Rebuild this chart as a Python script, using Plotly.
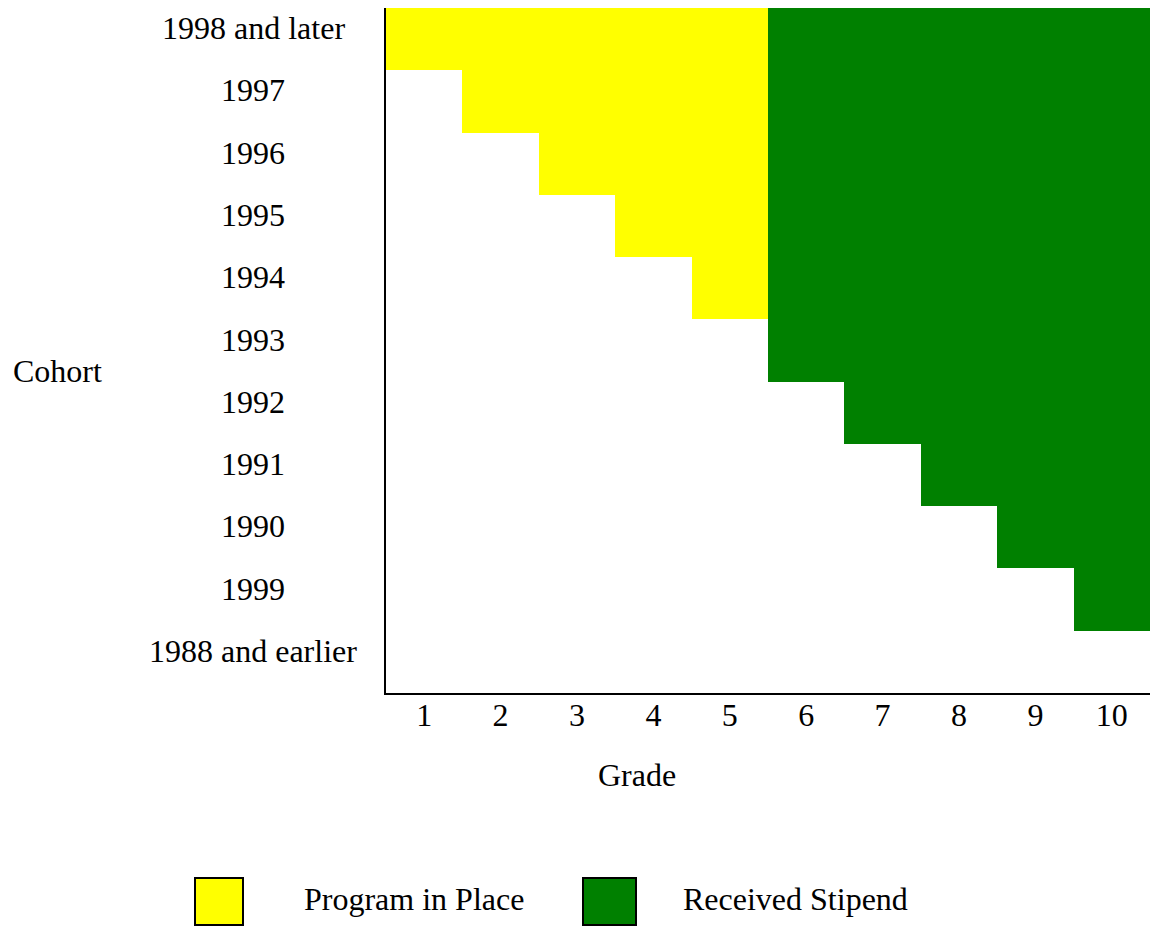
import plotly.graph_objects as go

grades = [1, 2, 3, 4, 5, 6, 7, 8, 9, 10]
cohorts = ["1998 and later", "1997", "1996", "1995", "1994", "1993",
           "1992", "1991", "1990", "1999", "1988 and earlier"]
# first grade with the program in place (None = never)
program_start = [1, 2, 3, 4, 5, None, None, None, None, None, None]
# first grade with a stipend received (None = never)
stipend_start = [6, 6, 6, 6, 6, 6, 7, 8, 9, 10, None]

legend_labels = ["Program in Place", "Received Stipend"]
YELLOW = "#ffff00"
GREEN = "#008000"
FONT = "Liberation Serif, Times New Roman, serif"
FS = 32

z = []
for p, s in zip(program_start, stipend_start):
    row = []
    for g in grades:
        if s is not None and g >= s:
            row.append(2)
        elif p is not None and g >= p:
            row.append(1)
        else:
            row.append(0)
    z.append(row)

row_idx = list(range(len(cohorts)))

fig = go.Figure(go.Heatmap(
    x=grades, y=row_idx, z=z, zmin=0, zmax=2,
    colorscale=[[0, "#ffffff"], [0.3333, "#ffffff"], [0.3333, YELLOW],
                [0.6667, YELLOW], [0.6667, GREEN], [1, GREEN]],
    showscale=False, hoverinfo="skip"))

fig.update_layout(
    width=1150, height=927,
    margin=dict(l=386, r=0, t=8, b=234),
    paper_bgcolor="white", plot_bgcolor="white",
    font=dict(family=FONT, size=FS, color="black"),
    showlegend=False,
)
fig.update_xaxes(range=[0.5, 10.5], tickvals=grades,
                 ticktext=[str(g) for g in grades],
                 showline=True, linewidth=2, linecolor="black",
                 showgrid=False, zeroline=False, ticks="",
                 ticklabelstandoff=-7,
                 tickfont=dict(size=FS), automargin=False)
fig.update_yaxes(range=[len(cohorts) - 0.5, -0.5], showline=True,
                 linewidth=2, linecolor="black", showgrid=False, zeroline=False,
                 ticks="", showticklabels=False, automargin=False)

for i, c in zip(row_idx, cohorts):
    fig.add_annotation(x=-0.174, xref="paper", y=i, yref="y", text=c,
                       showarrow=False, xanchor="center", yanchor="middle",
                       yshift=11, font=dict(size=FS))


def px_x(px):
    return (px - 386) / (1150 - 386)


def px_y(py):
    return (693 - py) / (693 - 8)


fig.add_annotation(x=px_x(637), xref="paper", y=px_y(775), yref="paper",
                   text="Grade", showarrow=False, xanchor="center",
                   yanchor="middle", font=dict(size=FS))
fig.add_annotation(x=px_x(57), xref="paper", y=px_y(371), yref="paper",
                   text="Cohort", showarrow=False, xanchor="center",
                   yanchor="middle", font=dict(size=FS))

boxes = [(195, 243, YELLOW), (583, 636, GREEN)]
text_x = [302, 681]
for (x0, x1, col), lbl, tx in zip(boxes, legend_labels, text_x):
    fig.add_shape(type="rect", xref="paper", yref="paper",
                  x0=px_x(x0), x1=px_x(x1), y0=px_y(925), y1=px_y(878),
                  fillcolor=col, line=dict(color="black", width=2))
    fig.add_annotation(x=px_x(tx), xref="paper", y=px_y(899), yref="paper",
                       text=lbl, showarrow=False, xanchor="left",
                       yanchor="middle", font=dict(size=FS))

fig.write_html("out.html",
               config={"displayModeBar": False, "staticPlot": True},
               post_script="document.body.style.margin='0';"
                           "document.body.style.overflow='hidden';")
